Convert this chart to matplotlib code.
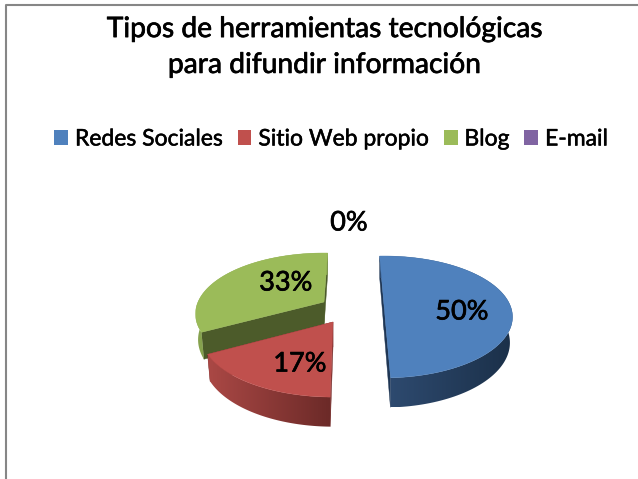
import numpy as np
import matplotlib
matplotlib.use('Agg')
import matplotlib.pyplot as plt
import matplotlib.patheffects as pe
from matplotlib.colors import to_rgb
from matplotlib.patches import Patch, Polygon

title = 'Tipos de herramientas tecnológicas\npara difundir información'
categories = ['Redes Sociales', 'Sitio Web propio', 'Blog', 'E-mail']
values = [3, 1, 2, 0]

colors = ['#4f81bd', '#c0504d', '#9bbb59', '#8064a2']
rim_left = ['#2f4c72', '#aa4845', '#86a24e', '#8064a2']
rim_right = ['#1b3049', '#6c2a28', '#86a24e', '#8064a2']
wall_colors = ['#1f3654', '#7a2f2d', '#4c5b2a', '#8064a2']

# where each exploded slice sits, in pixels
centers = [(384, 305), (333, 322), (324, 302), (324, 302)]
turns = [0, -3.4, -4.4, 0]
scales = [1, 1.03, 1, 1]
label_xy = [(462, 312), (300, 364), (286, 283), (349, 223)]
rx, ry, persp, depth = 126, 58.6, 0.196, 25
start_angle = 92.4

plt.rcParams['font.family'] = ['Lato', 'DejaVu Sans']

fig = plt.figure(figsize=(6.38, 4.79), dpi=100)
ax = fig.add_axes([0, 0, 1, 1])
ax.axis('off')

fat = [pe.withStroke(linewidth=0.5, foreground='black')]


def project(i, u, v, down=0.0):
    c = centers[i]
    w = 1 + persp * v
    shrink = scales[i] * (1 - 0.02 * down)
    x = c[0] + rx * u / w * shrink
    y = c[1] - ry * v / w * shrink + down * depth / w
    return x, y


def draw_slice(i, a1, a2, z):
    ang = np.radians(np.linspace(a1, a2, 120))
    us, vs = np.cos(ang), np.sin(ang)
    # radial walls
    for u, v in [(us[0], vs[0]), (us[-1], vs[-1])]:
        pts = [project(i, 0, 0), project(i, u, v), project(i, u, v, 1), project(i, 0, 0, 1)]
        ax.add_patch(Polygon(pts, closed=True, fc=wall_colors[i], ec=wall_colors[i], lw=0.3, zorder=z))
    # outer rim, shaded left to right
    upper = [project(i, u, v) for u, v in zip(us, vs)]
    lower = [project(i, u, v, 1) for u, v in zip(us, vs)]
    rim = Polygon(upper + lower[::-1], closed=True, fc='none', ec='none', zorder=z)
    ax.add_patch(rim)
    xs = [p[0] for p in upper + lower]
    ys = [p[1] for p in upper + lower]
    left, right = np.array(to_rgb(rim_left[i])), np.array(to_rgb(rim_right[i]))
    grad = np.linspace(left, right, 64)[np.newaxis, :, :]
    img = ax.imshow(grad, extent=[min(xs), max(xs), max(ys), min(ys)], aspect='auto',
                    interpolation='bilinear', zorder=z + 0.1)
    img.set_clip_path(rim)
    # top face
    top = [project(i, 0, 0)] + upper
    ax.add_patch(Polygon(top, closed=True, fc=colors[i], ec=colors[i], lw=0.3, zorder=z + 0.2))


shares = np.array(values) / sum(values)
edges = start_angle - 360 * np.concatenate([[0], np.cumsum(shares)])
for z, i in enumerate([2, 0, 1]):
    if values[i] > 0:
        draw_slice(i, edges[i] + turns[i], edges[i + 1] + turns[i], 1 + z * 0.5)

ax.set_xlim(0, 638)
ax.set_ylim(479, 0)

for i in range(len(values)):
    ax.text(label_xy[i][0], label_xy[i][1], '%d%%' % round(shares[i] * 100), fontsize=19.5,
            ha='center', va='center', color='black', path_effects=fat, zorder=5)

ax.text(325, 47, title, fontsize=20.3, ha='center', va='center', linespacing=1.47,
        color='black', path_effects=fat)

handles = [Patch(fc=c, ec='none') for c in colors]
leg = ax.legend(handles, categories, ncols=4, loc='center', bbox_to_anchor=(331, 139),
                bbox_transform=ax.transData, frameon=False, fontsize=16.5, handlelength=0.6,
                handleheight=0.6, handletextpad=0.3, columnspacing=0.65)
for t in leg.get_texts():
    t.set_path_effects([pe.withStroke(linewidth=0.35, foreground='black')])

# chart frame, runs off the right and bottom of the picture
ax.plot([6, 6, 638], [479, 5, 5], color='#868686', lw=1.5, clip_on=False)

fig.savefig('out.png', dpi=100)
